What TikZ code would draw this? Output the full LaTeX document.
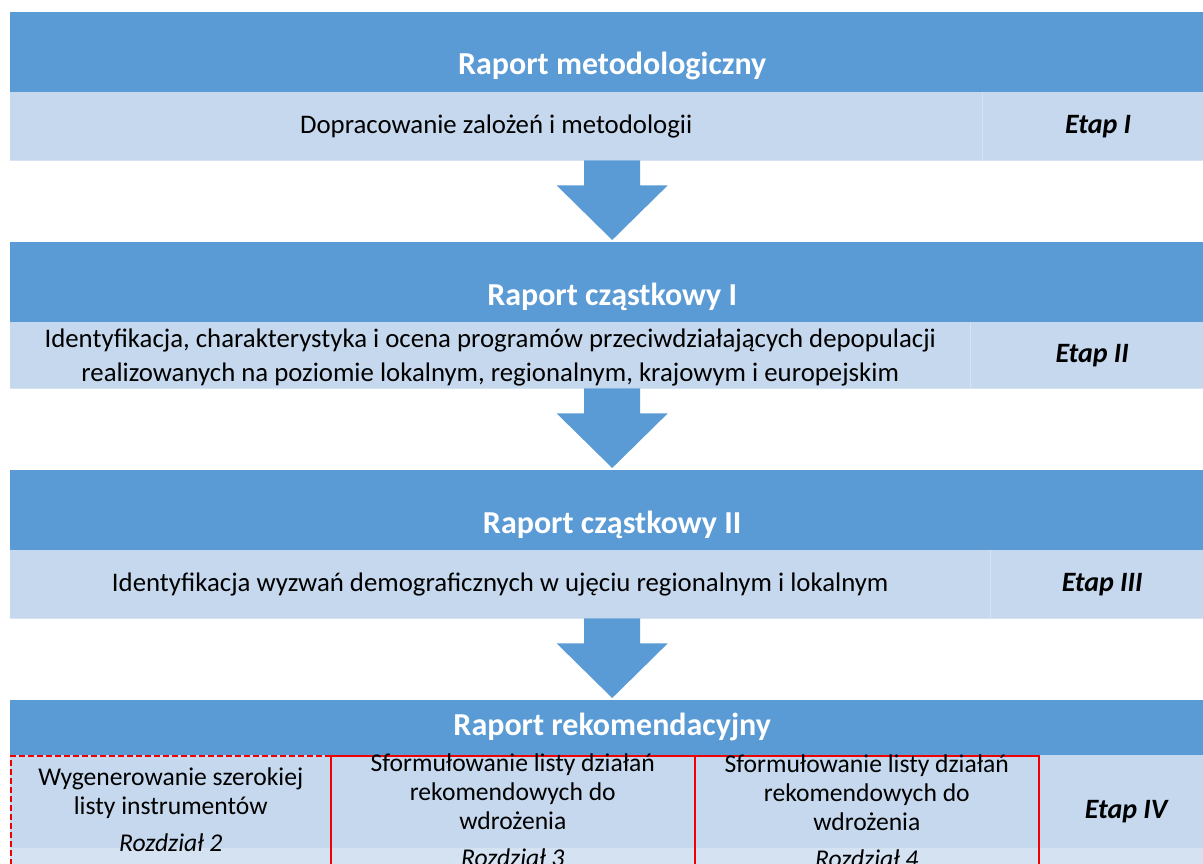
\documentclass[tikz,border=0pt]{standalone}
\usepackage{fontspec}
\setmainfont{Carlito}
\usepackage{xcolor}
\usetikzlibrary{positioning,calc}
\definecolor{hdblue}{HTML}{5B9BD5}
\definecolor{rowblue}{HTML}{C5D8ED}
\definecolor{bandblue}{HTML}{D5E2F2}
\definecolor{lineblue}{HTML}{D6E3F3}
\definecolor{redline}{HTML}{F00000}
\tikzset{
  header/.style = {anchor=north west, fill=hdblue, draw=none, minimum width=1204pt,
                   inner sep=0pt},
  title/.style  = {text=white, font=\fontsize{32}{38}\selectfont\bfseries},
  desc/.style   = {anchor=north west, fill=rowblue, draw=none, inner sep=0pt,
                   minimum height=68pt},
  body/.style   = {align=center, font=\fontsize{26.8}{34}\selectfont},
  etap/.style   = {desc, font=\fontsize{28}{32}\selectfont\bfseries\itshape},
  divider/.style= {lineblue, line width=1pt},
  cell/.style   = {anchor=north west, draw=redline, line width=1.6pt, inner sep=0pt,
                   minimum height=112pt},
  celltext/.style={align=center, font=\fontsize{25.6}{29}\selectfont},
  stage/.style  = {fill=hdblue, draw=none}
}
\newcommand{\stagearrow}[2]{%
  \fill[stage] let \p1=(#1.south), \p2=(#2.north) in
    (\x2-28,\y1) -- (\x2+28,\y1) -- (\x2+28,\y1-25) -- (\x2+55.5,\y1-25)
    -- (\x2,\y2+2) -- (\x2-55.5,\y1-25) -- (\x2-28,\y1-25) -- cycle;}

\begin{document}
\begin{tikzpicture}[x=1pt,y=-1pt]
\clip (0,0) rectangle (1203,864);
\fill[white] (0,0) rectangle (1203,864);

% Etap I
\node[header, minimum height=80pt] (hd1) at (10,12) {};
\node[title] (ttl1) at ([yshift=26pt]hd1.south) {Raport metodologiczny};
\node[desc, minimum width=972pt] (desc1) at (10,92) {};
\node[body] (txt1) at (desc1.center) {Dopracowanie zalożeń i metodologii};
\node[etap, minimum width=232pt] (etap1) at (982,92) {Etap I};
\draw[divider] (etap1.north west) -- (etap1.south west);
\draw[divider] (desc1.south west) -- (etap1.south east);

% Etap II
\node[header, minimum height=80pt] (hd2) at (10,242) {};
\node[title] (ttl2) at ([yshift=26pt]hd2.south) {Raport cząstkowy I};
\node[desc, minimum width=960pt, minimum height=66pt] (desc2) at (10,322) {};
\node[body] (txt2) at ([yshift=-2pt]desc2.center) {Identyfikacja, charakterystyka i ocena programów przeciwdziałających depopulacji\\
  realizowanych na poziomie lokalnym, regionalnym, krajowym i europejskim};
\node[etap, minimum width=244pt, minimum height=66pt] (etap2) at (970,322) {Etap II};
\draw[divider] (etap2.north west) -- (etap2.south west);
\draw[divider] (desc2.south west) -- (etap2.south east);

% Etap III
\node[header, minimum height=80pt] (hd3) at (10,470) {};
\node[title] (ttl3) at ([yshift=26pt]hd3.south) {Raport cząstkowy II};
\node[desc, minimum width=980pt] (desc3) at (10,550) {};
\node[body] (txt3) at (desc3.center) {Identyfikacja wyzwań demograficznych w ujęciu regionalnym i lokalnym};
\node[etap, minimum width=224pt] (etap3) at (990,550) {Etap III};
\draw[divider] (etap3.north west) -- (etap3.south west);
\draw[divider] (desc3.south west) -- (etap3.south east);

% Etap IV
\node[header, minimum height=55pt] (hd4) at (10,700) {};
\node[title] (ttl4) at ([yshift=28pt]hd4.south) {Raport rekomendacyjny};
\node[desc, minimum width=1204pt, minimum height=93pt] (desc4) at (10,755) {};
\node[anchor=north west, fill=bandblue, minimum width=1204pt, minimum height=20pt,
  inner sep=0pt] (band4) at (10,848) {};
\node[cell, dashed, dash pattern=on 6pt off 3pt, minimum width=320pt] (cell1) at (10,755) {};
\node[cell, minimum width=364pt] (cell2) at (330,755) {};
\node[cell, minimum width=344pt] (cell3) at (694,755) {};
\node[celltext] (txt4a) at ([yshift=2pt]cell1.center) {Wygenerowanie szerokiej\\listy instrumentów\\[8pt]\textit{Rozdział 2}};
\node[celltext] (txt4b) at ([yshift=2pt]cell2.center) {Sformułowanie listy działań\\rekomendowych do\\wdrożenia\\[8pt]\textit{Rozdział 3}};
\node[celltext] (txt4c) at ([yshift=1pt]cell3.center) {Sformułowanie listy działań\\rekomendowych do\\wdrożenia\\[8pt]\textit{Rozdział 4}};
\node[etap, fill=none, minimum width=176pt, minimum height=112pt] (etap4) at (1038,755) {Etap IV};

\stagearrow{desc1}{hd2}
\stagearrow{desc2}{hd3}
\stagearrow{desc3}{hd4}
\end{tikzpicture}
\end{document}
